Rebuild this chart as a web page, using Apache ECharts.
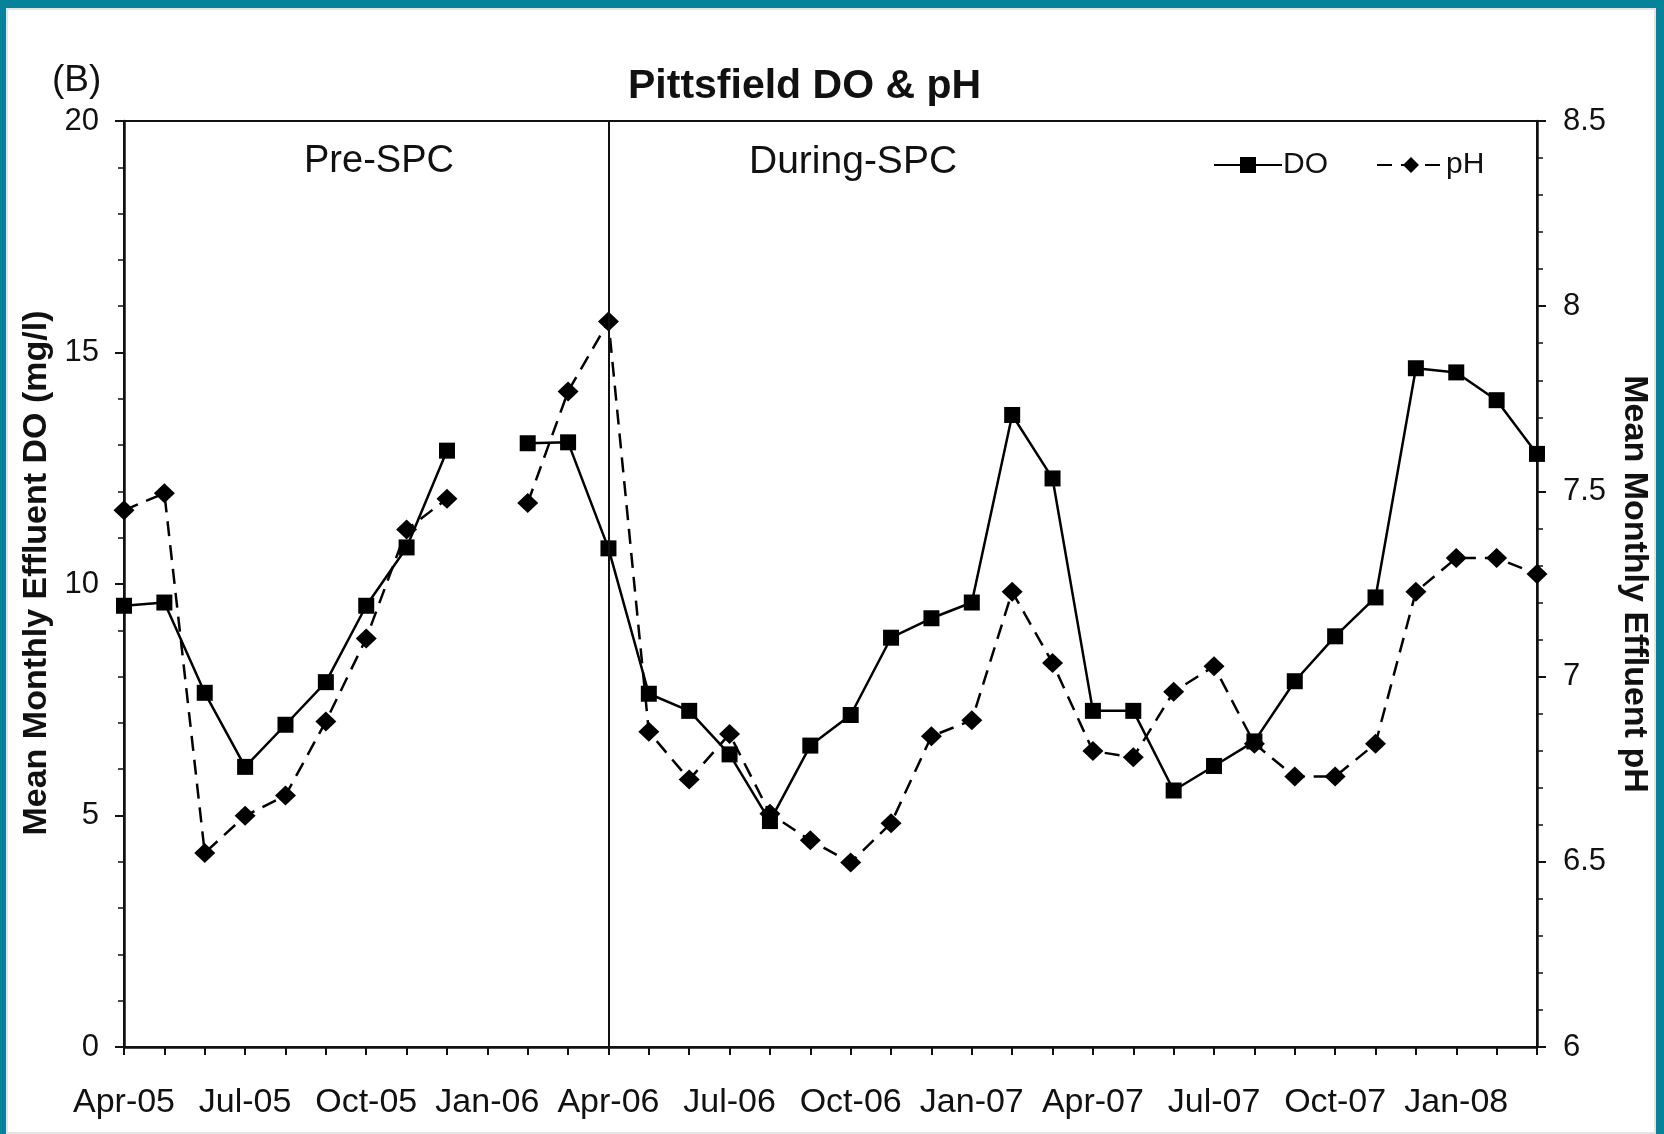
<!DOCTYPE html>
<html>
<head>
<meta charset="utf-8">
<script src="https://cdn.jsdelivr.net/npm/echarts@6/dist/echarts.min.js"></script>
<style>
  html, body { margin: 0; padding: 0; background: #06829a; width: 1664px; height: 1134px; overflow: hidden; }
  #frame { position: absolute; left: 6px; top: 8px; width: 1650px; height: 1126px; background: #ffffff; box-shadow: inset 0 0 0 2px #e4e4e4; }
  #chart { position: absolute; left: -6px; top: -8px; width: 1664px; height: 1134px; }
</style>
</head>
<body>
<div id="frame"><div id="chart"></div></div>
<script>
const months = ['Apr-05','May-05','Jun-05','Jul-05','Aug-05','Sep-05','Oct-05','Nov-05','Dec-05','Jan-06','Feb-06','Mar-06',
  'Apr-06','May-06','Jun-06','Jul-06','Aug-06','Sep-06','Oct-06','Nov-06','Dec-06','Jan-07','Feb-07','Mar-07',
  'Apr-07','May-07','Jun-07','Jul-07','Aug-07','Sep-07','Oct-07','Nov-07','Dec-07','Jan-08','Feb-08','Mar-08'];
const doValues = [9.53, 9.6, 7.65, 6.05, 6.96, 7.88, 9.53, 10.79, 12.88, null, 13.04, 13.06,
  10.77, 7.63, 7.26, 6.32, 4.88, 6.51, 7.17, 8.84, 9.26, 9.6, 13.65, 12.28,
  7.26, 7.26, 5.54, 6.07, 6.6, 7.9, 8.87, 9.71, 14.66, 14.57, 13.97, 12.81];
const phValues = [7.449, 7.495, 6.524, 6.624, 6.679, 6.879, 7.103, 7.397, 7.48, null, 7.469, 7.77,
  7.959, 6.851, 6.722, 6.845, 6.63, 6.558, 6.498, 6.604, 6.839, 6.882, 7.229, 7.037,
  6.799, 6.782, 6.959, 7.028, 6.819, 6.73, 6.73, 6.819, 7.229, 7.32, 7.32, 7.277];
const phaseStart = 'Apr-06';
const phaseLabels = ['Pre-SPC', 'During-SPC'];

const FONT = '"Liberation Sans", Arial, Helvetica, sans-serif';
const chart = echarts.init(document.getElementById('chart'), null, { renderer: 'canvas' });

chart.setOption({
  backgroundColor: 'transparent',
  animation: false,
  textStyle: { fontFamily: FONT, color: '#111' },
  title: {
    text: 'Pittsfield DO & pH',
    left: 628, top: 66, padding: 0,
    textStyle: { fontFamily: FONT, fontSize: 41, fontWeight: 'bold', color: '#111' }
  },
  legend: {
    left: 1208, top: 145,
    itemWidth: 68, itemHeight: 20, itemGap: 48,
    textStyle: { fontFamily: FONT, fontSize: 30, color: '#111', padding: [0, 0, 0, -4] },
    data: ['DO', 'pH']
  },
  grid: {
    left: 124, right: 127, top: 121, bottom: 87,
    show: true, borderColor: '#111', borderWidth: 2, backgroundColor: 'transparent'
  },
  graphic: [
    { type: 'text', left: 52, top: 62, style: { text: '(B)', font: '37px ' + FONT, fill: '#111' } },
    { type: 'text', left: 304, top: 143, style: { text: phaseLabels[0], font: '38px ' + FONT, fill: '#111' } },
    { type: 'text', left: 749, top: 143, style: { text: phaseLabels[1], font: '39px ' + FONT, fill: '#111' } }
  ],
  xAxis: {
    type: 'category',
    data: months,
    boundaryGap: false,
    axisLine: { lineStyle: { color: '#111', width: 2.5 } },
    axisTick: { show: true, interval: 0, length: 8, lineStyle: { color: '#111', width: 2 } },
    axisLabel: { interval: 2, fontSize: 34, color: '#111', margin: 39, fontFamily: FONT },
    splitLine: { show: false }
  },
  yAxis: [
    {
      type: 'value', min: 0, max: 20, interval: 5, position: 'left',
      name: 'Mean Monthly Effluent DO (mg/l)', nameLocation: 'middle', nameRotate: 90, nameGap: 70,
      nameTextStyle: { fontSize: 34, fontWeight: 'bold', color: '#111', fontFamily: FONT, padding: [0, 0, 0, 22] },
      axisLine: { show: true, lineStyle: { color: '#111', width: 2.5 } },
      axisTick: { show: true, length: 9, lineStyle: { color: '#111', width: 2 } },
      minorTick: { show: true, splitNumber: 5, length: 6, lineStyle: { color: '#111', width: 1.5 } },
      axisLabel: { fontSize: 31, color: '#111', margin: 25, fontFamily: FONT },
      splitLine: { show: false }
    },
    {
      type: 'value', min: 6, max: 8.5, interval: 0.5, position: 'right',
      name: 'Mean Monthly Effluent pH', nameLocation: 'middle', nameRotate: -90, nameGap: 78,
      nameTextStyle: { fontSize: 34, fontWeight: 'bold', color: '#111', fontFamily: FONT },
      axisLine: { show: true, lineStyle: { color: '#111', width: 2.5 } },
      axisTick: { show: true, length: 9, lineStyle: { color: '#111', width: 2 } },
      minorTick: { show: true, splitNumber: 5, length: 6, lineStyle: { color: '#111', width: 1.5 } },
      axisLabel: { fontSize: 31, color: '#111', margin: 26, fontFamily: FONT },
      splitLine: { show: false }
    }
  ],
  series: [
    {
      name: 'DO', type: 'line', yAxisIndex: 0, data: doValues,
      connectNulls: false,
      symbol: 'rect', symbolSize: 16,
      itemStyle: { color: '#000' },
      lineStyle: { color: '#000', width: 2.5, type: 'solid' },
      markLine: {
        silent: true, symbol: 'none', label: { show: false },
        lineStyle: { color: '#111', width: 2, type: 'solid' },
        data: [{ xAxis: phaseStart }]
      },
      z: 3
    },
    {
      name: 'pH', type: 'line', yAxisIndex: 1, data: phValues,
      connectNulls: false,
      symbol: 'diamond', symbolSize: [21, 20],
      itemStyle: { color: '#000' },
      lineStyle: { color: '#000', width: 2.5, type: [15, 9] },
      z: 2
    }
  ]
});
</script>
</body>
</html>
